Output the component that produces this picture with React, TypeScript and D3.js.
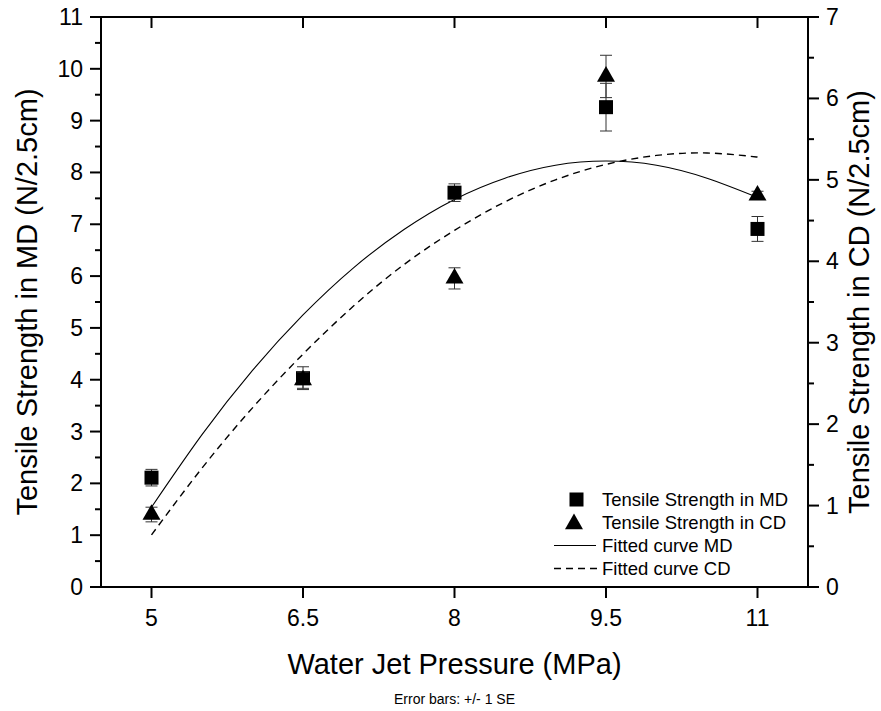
import React from 'react'
import { scaleLinear, line, curveNatural, symbol, symbolTriangle, range } from 'd3'

// measured points (x = water jet pressure in MPa)
const pressures = [5, 6.5, 8, 9.5, 11]
const mdValues = [2.11, 4.03, 7.61, 9.26, 6.91]
const mdErrors = [0.16, 0.22, 0.17, 0.46, 0.24]
const cdValues = [0.89, 2.54, 3.79, 6.27, 4.81]
const cdErrors = [0.09, 0.1, 0.13, 0.26, 0.05]

// fitted curves
const fitX = [5, 5.5, 6, 6.5, 7, 7.5, 8, 8.5, 9, 9.5, 10, 10.5, 11]
const fitMD = [1.54, 2.94, 4.18, 5.25, 6.16, 6.9, 7.48, 7.89, 8.14, 8.22, 8.14, 7.89, 7.52]
const fitCD = [0.64, 1.46, 2.2, 2.86, 3.45, 3.96, 4.38, 4.73, 5.0, 5.19, 5.3, 5.33, 5.28]

const xTicks = ['5', '6.5', '8', '9.5', '11']
const leftTicks = range(0, 12)
const rightTicks = range(0, 8)

const legendItems = ['Tensile Strength in MD', 'Tensile Strength in CD', 'Fitted curve MD', 'Fitted curve CD']

const W = 881
const H = 711
const margin = { left: 101, right: 808, top: 17, bottom: 587 }
const font = 'Arial, "Liberation Sans", sans-serif'

const App = () => {
    const x = scaleLinear().domain([4.5, 11.5]).range([margin.left, margin.right])
    const yL = scaleLinear().domain([0, 11]).range([margin.bottom, margin.top])
    const yR = scaleLinear().domain([0, 7]).range([margin.bottom, margin.top])

    const mdLine = line<number>().x((d, i) => x(fitX[i])).y(d => yL(d)).curve(curveNatural)
    const cdLine = line<number>().x((d, i) => x(fitX[i])).y(d => yR(d)).curve(curveNatural)
    const tri = symbol().type(symbolTriangle).size(140)()
    const sq = 14

    const legendX = 602
    const legendBase = 506
    const rowH = 23

    return (
        <div style={{ position: 'absolute', left: 0, top: 0 }}>
            <svg width={W} height={H} style={{ display: 'block', background: 'white' }} fontFamily={font}>
                {/* fitted curves */}
                <path d={mdLine(fitMD) || ''} fill="none" stroke="#000" strokeWidth={1.1} />
                <path d={cdLine(fitCD) || ''} fill="none" stroke="#000" strokeWidth={1.4} strokeDasharray="7,5" />

                {/* MD: squares on left axis */}
                {pressures.map((p, i) => (
                    <g key={'md' + i}>
                        <line x1={x(p)} x2={x(p)} y1={yL(mdValues[i] - mdErrors[i])} y2={yL(mdValues[i] + mdErrors[i])} stroke="#333" />
                        <line x1={x(p) - 6} x2={x(p) + 6} y1={yL(mdValues[i] + mdErrors[i])} y2={yL(mdValues[i] + mdErrors[i])} stroke="#333" />
                        <line x1={x(p) - 6} x2={x(p) + 6} y1={yL(mdValues[i] - mdErrors[i])} y2={yL(mdValues[i] - mdErrors[i])} stroke="#333" />
                        <rect x={x(p) - sq / 2} y={yL(mdValues[i]) - sq / 2} width={sq} height={sq} fill="#000" />
                    </g>
                ))}

                {/* CD: triangles on right axis */}
                {pressures.map((p, i) => (
                    <g key={'cd' + i}>
                        <line x1={x(p)} x2={x(p)} y1={yR(cdValues[i] - cdErrors[i])} y2={yR(cdValues[i] + cdErrors[i])} stroke="#333" />
                        <line x1={x(p) - 6} x2={x(p) + 6} y1={yR(cdValues[i] + cdErrors[i])} y2={yR(cdValues[i] + cdErrors[i])} stroke="#333" />
                        <line x1={x(p) - 6} x2={x(p) + 6} y1={yR(cdValues[i] - cdErrors[i])} y2={yR(cdValues[i] - cdErrors[i])} stroke="#333" />
                        <path d={tri || ''} transform={`translate(${x(p)},${yR(cdValues[i])})`} fill="#000" />
                    </g>
                ))}

                {/* frame */}
                <rect x={margin.left} y={margin.top} width={margin.right - margin.left} height={margin.bottom - margin.top} fill="none" stroke="#000" strokeWidth={2} />

                {/* bottom + top ticks */}
                {xTicks.map(t => (
                    <g key={'x' + t}>
                        <line x1={x(+t)} x2={x(+t)} y1={margin.bottom} y2={margin.bottom + 11} stroke="#000" strokeWidth={2} />
                        <line x1={x(+t)} x2={x(+t)} y1={margin.top} y2={margin.top + 11} stroke="#000" strokeWidth={2} />
                        <text x={x(+t)} y={margin.bottom + 39} textAnchor="middle" fontSize={23}>{t}</text>
                    </g>
                ))}

                {/* left axis */}
                {leftTicks.map(t => (
                    <g key={'l' + t}>
                        <line x1={margin.left - 11} x2={margin.left} y1={yL(t)} y2={yL(t)} stroke="#000" strokeWidth={2} />
                        {t < 11 && <line x1={margin.left - 6} x2={margin.left} y1={yL(t + 0.5)} y2={yL(t + 0.5)} stroke="#000" strokeWidth={2} />}
                        <text x={margin.left - 18} y={yL(t) + 8} textAnchor="end" fontSize={23}>{t}</text>
                    </g>
                ))}

                {/* right axis */}
                {rightTicks.map(t => (
                    <g key={'r' + t}>
                        <line x1={margin.right} x2={margin.right + 11} y1={yR(t)} y2={yR(t)} stroke="#000" strokeWidth={2} />
                        {t < 7 && <line x1={margin.right} x2={margin.right + 6} y1={yR(t + 0.5)} y2={yR(t + 0.5)} stroke="#000" strokeWidth={2} />}
                        <text x={margin.right + 18} y={yR(t) + 8} textAnchor="start" fontSize={23}>{t}</text>
                    </g>
                ))}

                {/* titles */}
                <text x={(margin.left + margin.right) / 2} y={674} textAnchor="middle" fontSize={29}>Water Jet Pressure (MPa)</text>
                <text transform={`translate(37,${(margin.top + margin.bottom) / 2}) rotate(-90)`} textAnchor="middle" fontSize={29}>Tensile Strength in MD (N/2.5cm)</text>
                <text transform={`translate(869,${(margin.top + margin.bottom) / 2}) rotate(-90)`} textAnchor="middle" fontSize={29}>Tensile Strength in CD (N/2.5cm)</text>
                <text x={(margin.left + margin.right) / 2} y={704} textAnchor="middle" fontSize={14}>Error bars: +/- 1 SE</text>

                {/* legend */}
                <g>
                    <rect x={576.5 - 7} y={legendBase - 6.5 - 7} width={14} height={14} fill="#000" />
                    <path d={tri || ''} transform={`translate(574,${legendBase + rowH - 5})`} fill="#000" />
                    <line x1={554} x2={596} y1={legendBase + rowH * 2 - 6.5} y2={legendBase + rowH * 2 - 6.5} stroke="#000" strokeWidth={1.1} />
                    <line x1={554} x2={597} y1={legendBase + rowH * 3 - 6.5} y2={legendBase + rowH * 3 - 6.5} stroke="#000" strokeWidth={1.4} strokeDasharray="7,5" />
                    {legendItems.map((t, i) => (
                        <text key={t} x={legendX} y={legendBase + rowH * i} fontSize={18.5}>{t}</text>
                    ))}
                </g>
            </svg>
        </div>
    )
}

export default App
